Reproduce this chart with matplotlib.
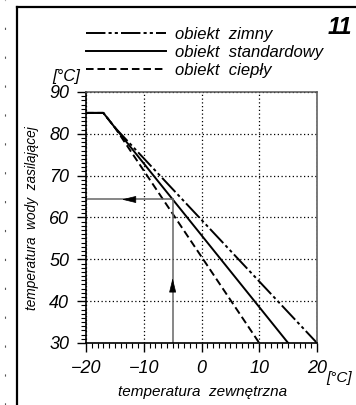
import matplotlib.pyplot as plt
from matplotlib.lines import Line2D
from matplotlib.ticker import MultipleLocator

plt.rcParams['font.family'] = ['Liberation Sans', 'DejaVu Sans']
plt.rcParams['font.style'] = 'italic'

# outdoor temperature -> supply water temperature (heating curves)
t_out_cold = [-20, -17, -15, 20]
t_sup_cold = [85, 85, 81.5, 30]
t_out_std = [-20, -17, -15, 15]
t_sup_std = [85, 85, 81.5, 30]
t_out_warm = [-20, -17, -15, 10]
t_sup_warm = [85, 85, 81.5, 30]
labels = ["obiekt  zimny", "obiekt  standardowy", "obiekt  ciepły"]

# worked example read-off
ex_t_out = -5
ex_t_sup = 64.3

fig = plt.figure(figsize=(3.56, 4.05), dpi=100)
ax = fig.add_axes([0.2416, 0.1531, 0.6489, 0.6198])

lw = 1.4
l1, = ax.plot(t_out_cold, t_sup_cold, color='black', lw=lw,
              dashes=(10, 1.6, 1.6, 1.6, 1.6, 1.6))
l2, = ax.plot(t_out_std, t_sup_std, color='black', lw=lw)
l3, = ax.plot(t_out_warm, t_sup_warm, color='black', lw=lw, dashes=(3.9, 2.0))

# example read-off lines
ax.plot([ex_t_out, ex_t_out], [30, ex_t_sup], color='#666666', lw=1.1)
ax.plot([ex_t_out, -20], [ex_t_sup, ex_t_sup], color='#666666', lw=1.1)
ax.annotate('', xy=(ex_t_out, 45.5), xytext=(ex_t_out, 43.5),
            arrowprops=dict(arrowstyle='-|>,head_length=0.9,head_width=0.22',
                            color='black', lw=0.5, shrinkA=0, shrinkB=0))
ax.annotate('', xy=(-13.8, ex_t_sup), xytext=(-11.8, ex_t_sup),
            arrowprops=dict(arrowstyle='-|>,head_length=0.9,head_width=0.22',
                            color='black', lw=0.5, shrinkA=0, shrinkB=0))

ax.set_xlim(-20, 20)
ax.set_ylim(30, 90)
ax.xaxis.set_major_locator(MultipleLocator(10))
ax.xaxis.set_minor_locator(MultipleLocator(1))
ax.yaxis.set_major_locator(MultipleLocator(10))
ax.yaxis.set_minor_locator(MultipleLocator(1))
ax.tick_params(which='major', direction='out', length=6.5, width=1, labelsize=13)
ax.tick_params(axis='x', which='major', pad=5.5)
ax.tick_params(axis='y', which='major', pad=5.5)
ax.tick_params(which='minor', direction='out', length=3.5, width=0.8)
ax.grid(True, which='major', color='black', lw=0.9, linestyle=(0, (1, 2)))

for side in ['left', 'bottom']:
    ax.spines[side].set_linewidth(1.2)
for side in ['top', 'right']:
    ax.spines[side].set_linewidth(1.1)
    ax.spines[side].set_color('#555555')

ax.text(-0.234, 0.496, "temperatura  wody  zasilającej", transform=ax.transAxes,
        rotation=90, ha='center', va='center', fontsize=9.8)
ax.text(0.506, -0.195, "temperatura  zewnętrzna", transform=ax.transAxes,
        ha='center', va='center', fontsize=11)
ax.text(-0.087, 1.06, "[°C]", transform=ax.transAxes, ha='center', va='center', fontsize=12)
ax.text(1.095, -0.14, "[°C]", transform=ax.transAxes, ha='center', va='center', fontsize=11)

ax.legend([l1, l2, l3], labels, loc='upper left', bbox_to_anchor=(86 / 356, 1 - 27 / 405),
          bbox_transform=fig.transFigure, frameon=False, borderpad=0, borderaxespad=0,
          handlelength=4.8, handletextpad=0.54, labelspacing=0.19, fontsize=12)

fig.text(328 / 356, 1 - 27 / 405, "11", fontsize=17, fontweight='bold',
         ha='left', va='center')

# page frame
fig.add_artist(Line2D([17 / 356, 17 / 356], [0, 1 - 7 / 405], color='black', lw=1.6))
fig.add_artist(Line2D([17 / 356, 1], [1 - 7 / 405, 1 - 7 / 405], color='black', lw=1.6))
fig.add_artist(Line2D([5 / 356, 5 / 356], [0, 1], color='#555555', lw=0.8,
                      linestyle=(0, (2, 24))))

fig.savefig('out.png', dpi=100)
